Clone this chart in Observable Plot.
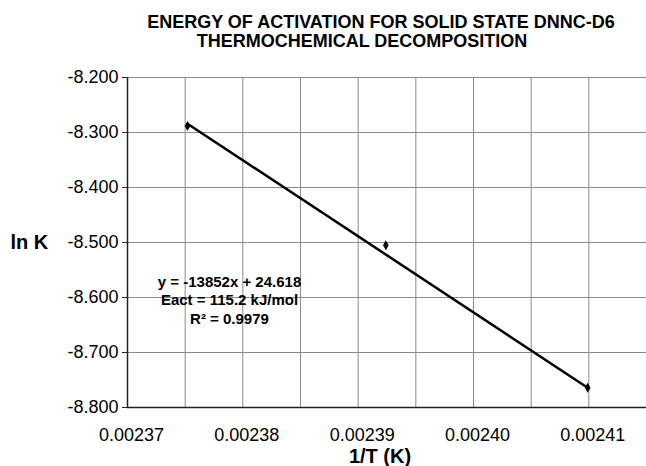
<!DOCTYPE html>
<html>
<head>
<meta charset="utf-8">
<script src="https://cdn.jsdelivr.net/npm/d3@7"></script>
<script src="https://cdn.jsdelivr.net/npm/@observablehq/plot@0.6"></script>
<style>
  body { margin: 0; background: #fff; font-family: "Liberation Sans", Arial, Helvetica, sans-serif; }
  #wrap { position: relative; width: 646px; height: 466px; overflow: hidden; }
  .t { position: absolute; font-weight: bold; font-size: 18px; line-height: 18px; white-space: nowrap; transform: translateX(-50%); color: #000; }
  #chart { position: absolute; left: 0; top: 0; }
</style>
</head>
<body>
<div id="wrap">
  <div id="chart"></div>
  <div class="t" id="t1" style="left:381px; top:13px;"></div>
  <div class="t" id="t2" style="left:362px; top:32px;"></div>
</div>
<script>
// Title lines
const titleLines = ["ENERGY OF ACTIVATION FOR SOLID STATE DNNC-D6", "THERMOCHEMICAL DECOMPOSITION"];

// Data points (1/T, ln K)
const invT = [0.0023752, 0.0023924, 0.0024099];
const lnK = [-8.288, -8.505, -8.764];

// Trend line endpoints
const trendX = [0.0023752, 0.0024099];
const trendY = [-8.284, -8.764];

// Axes
const xDomain = [0.00237, 0.002415];
const yDomain = [-8.8, -8.2];
const xTicks = [0.00237, 0.00238, 0.00239, 0.00240, 0.00241];
const xGrid = [0.00237, 0.002375, 0.00238, 0.002385, 0.00239, 0.002395, 0.00240, 0.002405, 0.00241];
const yTicks = [-8.2, -8.3, -8.4, -8.5, -8.6, -8.7, -8.8];

// Labels
const yLabel = "ln K";
const xLabel = "1/T (K)";
const annotationLines = ["y = -13852x + 24.618", "Eact = 115.2 kJ/mol", "R\u00B2 = 0.9979"];

document.getElementById("t1").textContent = titleLines[0];
document.getElementById("t2").textContent = titleLines[1];

const points = invT.map((x, i) => ({x, y: lnK[i]}));
const trend = trendX.map((x, i) => ({x, y: trendY[i]}));

const chart = Plot.plot({
  width: 646,
  height: 466,
  marginLeft: 127,
  marginTop: 77,
  marginBottom: 59,
  marginRight: 0,
  style: {fontFamily: '"Liberation Sans", Arial, Helvetica, sans-serif', fontSize: "18px", color: "#000", background: "#fff", overflow: "visible"},
  x: {domain: xDomain, type: "linear"},
  y: {domain: yDomain, type: "linear"},
  marks: [
    Plot.gridX(xGrid, {stroke: "#8a8a8a", strokeOpacity: 1, strokeWidth: 1}),
    Plot.gridY(yTicks, {stroke: "#8a8a8a", strokeOpacity: 1, strokeWidth: 1}),
    Plot.ruleX([xDomain[0]], {stroke: "#222", strokeWidth: 1.5}),
    Plot.ruleY([yDomain[0]], {stroke: "#222", strokeWidth: 1.5}),
    Plot.axisY(yTicks, {tickFormat: d => d.toFixed(3), tickSize: 5, tickPadding: 4, fontSize: 18, label: null, stroke: "#222"}),
    Plot.axisX(xTicks, {tickFormat: d => d.toFixed(5), tickSize: 0, tickPadding: 21, fontSize: 18, dx: 4, label: null}),
    Plot.line(trend, {x: "x", y: "y", stroke: "#000", strokeWidth: 2.5}),
    Plot.dot(points, {x: "x", y: "y", symbol: "diamond", fill: "#000", r: 3}),
    Plot.text([yLabel], {frameAnchor: "left", textAnchor: "start", lineAnchor: "middle", dx: -117, fontSize: 20, fontWeight: "bold", fill: "#000"}),
    Plot.text([xLabel], {frameAnchor: "bottom", textAnchor: "middle", lineAnchor: "bottom", dx: -7, dy: 55, fontSize: 20, fontWeight: "bold", fill: "#000"}),
    Plot.text([annotationLines.join("\n")], {frameAnchor: "top-left", textAnchor: "middle", lineAnchor: "bottom", dx: 102, dy: 246, fontSize: 15, fontWeight: "bold", lineHeight: 1.23, fill: "#000"})
  ]
});
document.getElementById("chart").appendChild(chart);
</script>
</body>
</html>
